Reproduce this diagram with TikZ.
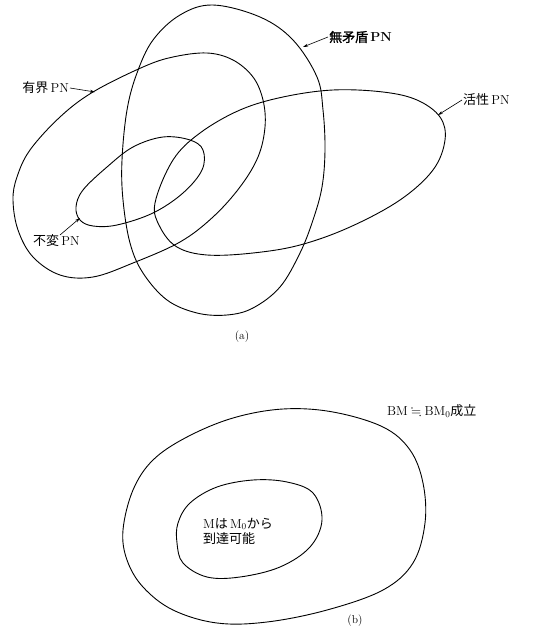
\documentclass[tikz,border=0pt]{standalone}
\usepackage{amssymb}
\usepackage{fontspec}
\newfontfamily\cjk{Noto Sans CJK JP}
\newfontfamily\cjkb{Noto Sans CJK JP}[FakeBold=1.5]
\usetikzlibrary{arrows.meta}
\tikzset{
  curve/.style={line width=0.9pt},
  lbl/.style={inner sep=1pt,font=\fontsize{13}{15}\selectfont},
  subcap/.style={inner sep=1pt,font=\fontsize{11.5}{13}\selectfont},
  ptr/.style={line width=0.6pt,-{Stealth[length=5pt,width=3pt]}}
}
\begin{document}
\begin{tikzpicture}[x=1pt,y=-1pt]
\useasboundingbox (0,0) rectangle (542,631);
% (a) consistent PN (vertical)
\draw[curve] plot[smooth cycle,tension=0.6] coordinates {(213,5) (260,17) (293,40) (317,77) (323,110) (325,150) (322,187) (313,220) (300,253) (280,287) (253,308) (227,315) (197,313) (167,300) (143,273) (130,243) (123,200) (122,160) (127,110) (137,73) (153,40) (180,15)};
% bounded PN
\draw[curve] plot[smooth cycle,tension=0.6] coordinates {(13,200) (18,230) (33,257) (60,275) (93,277) (133,263) (180,242) (213,217) (240,187) (258,157) (265,127) (263,100) (253,77) (233,60) (207,53) (173,57) (143,67) (93,92) (60,117) (30,150) (17,177)};
% invariant PN
\draw[curve] plot[smooth cycle,tension=0.6] coordinates {(76,207) (80,220) (93,226) (117,225) (153,213) (183,193) (202,170) (203,150) (190,140) (163,137) (133,147) (107,167) (83,190)};
% live PN
\draw[curve] plot[smooth cycle,tension=0.6] coordinates {(155,203) (160,227) (177,247) (207,255) (253,253) (300,245) (350,227) (400,200) (433,170) (445,140) (440,117) (417,100) (383,92) (333,90) (283,97) (240,110) (200,133) (173,160)};
% labels (a)
\node[lbl,anchor=east] (bnd) at (70,88) {{\cjk 有界}\,PN};
\node[lbl,anchor=west] (cons) at (328,37) {{\cjkb 無矛盾}\,\textbf{PN}};
\node[lbl,anchor=west] (live) at (462,100) {{\cjk 活性}\,PN};
\node[lbl,anchor=west] (inv) at (32,241) {{\cjk 不変}\,PN};
\coordinate (pb) at (95,92);
\coordinate (pc) at (303,47);
\coordinate (pl) at (438,115);
\coordinate (pi) at (80,218);
\coordinate (ti) at (60,235);
\draw[ptr] (bnd.east) -- (pb);
\draw[ptr] (cons.west) -- (pc);
\draw[ptr] (live.west) -- (pl);
\draw[ptr] (ti) -- (pi);
\node[subcap] (capa) at (242,337) {(a)};
% (b)
\draw[curve] plot[smooth cycle,tension=0.6] coordinates {(123,530) (127,560) (143,587) (173,610) (217,623) (267,622) (327,610) (383,590) (413,563) (425,523) (423,483) (410,450) (383,427) (333,412) (283,409) (233,418) (187,437) (153,460) (133,490)};
\draw[curve] plot[smooth cycle,tension=0.6] coordinates {(177,543) (183,563) (207,577) (240,577) (280,567) (310,547) (322,520) (313,493) (287,482) (253,480) (217,487) (190,503) (178,523)};
\node[lbl,anchor=west] (bm) at (386,411) {BM${}\fallingdotseq{}$BM$_0${\cjk 成立}};
\node[lbl,align=left,anchor=west] (reach) at (202,531) {M{\cjk は}\,M$_0${\cjk から}\\{\cjk 到達可能}};
\node[subcap] (capb) at (355,621) {(b)};
\end{tikzpicture}
\end{document}
